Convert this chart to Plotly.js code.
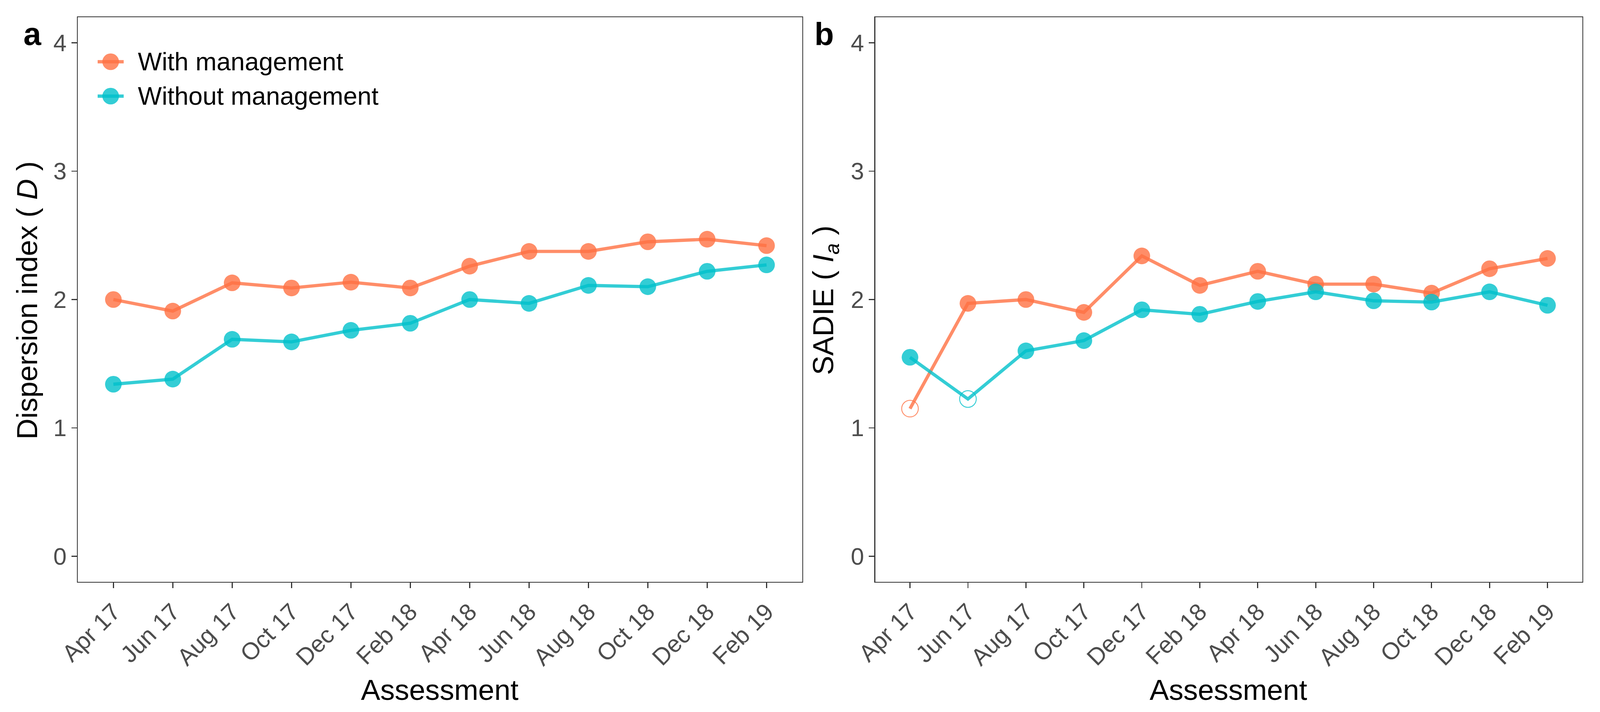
<!DOCTYPE html>
<html>
<head>
<meta charset="utf-8">
<script src="https://cdn.plot.ly/plotly-3.0.1.min.js"></script>
<style>html,body{margin:0;padding:0;background:#fff;overflow:hidden;}#chart{width:100vw;height:100vh;}</style>
</head>
<body>
<div id="chart"></div>
<script>
// ---- data ----
var assessments = ["Apr 17","Jun 17","Aug 17","Oct 17","Dec 17","Feb 18","Apr 18","Jun 18","Aug 18","Oct 18","Dec 18","Feb 19"];
var seriesNames = ["With management","Without management"];
var dispersionWith    = [2.00,1.91,2.13,2.09,2.135,2.09,2.26,2.375,2.375,2.45,2.47,2.42];
var dispersionWithout = [1.34,1.38,1.69,1.67,1.76,1.815,2.00,1.97,2.11,2.10,2.22,2.27];
var sadieWith         = [1.15,1.97,2.00,1.90,2.34,2.11,2.22,2.12,2.12,2.05,2.24,2.32];
var sadieWithout      = [1.55,1.225,1.60,1.68,1.92,1.885,1.985,2.06,1.99,1.98,2.06,1.955];
// significance flags (false -> drawn as open circle)
var sadieWithSig      = [false,true,true,true,true,true,true,true,true,true,true,true];
var sadieWithoutSig   = [true,false,true,true,true,true,true,true,true,true,true,true];
var yTicks = [0,1,2,3,4];

// ---- geometry (reference is 4424 x 1822); scale to the actual viewport ----
var RW = 4424, RH = 1822;
var VW = window.innerWidth || RW, VH = window.innerHeight || RH;
var S = Math.min(VW / RW, VH / RH);
function k(v){ return v * S; }
function px2x(p){ return p / RW; }
function px2y(p){ return 1 - p / RH; }

var orange = 'rgba(255,112,66,0.8)';
var teal = 'rgba(0,192,202,0.8)';
var FONT = 'Liberation Sans, Arial, Helvetica, sans-serif';
var MS = k(46), LW = k(9);

function trace(y, color, sig, xa, ya, name){
  var sym = y.map(function(_, i){ return (sig && !sig[i]) ? 'circle-open' : 'circle'; });
  var lw = y.map(function(_, i){ return (sig && !sig[i]) ? k(2.5) : 0; });
  return {
    type: 'scatter', mode: 'lines+markers', name: name,
    x: assessments, y: y, xaxis: xa, yaxis: ya, showlegend: false,
    line: {color: color, width: LW},
    marker: {color: color, size: MS, symbol: sym, line: {color: color, width: lw}},
    hoverinfo: 'x+y'
  };
}

var data = [
  trace(dispersionWith, orange, null, 'x', 'y', seriesNames[0]),
  trace(dispersionWithout, teal, null, 'x', 'y', seriesNames[1]),
  trace(sadieWith, orange, sadieWithSig, 'x2', 'y2', seriesNames[0]),
  trace(sadieWithout, teal, sadieWithoutSig, 'x2', 'y2', seriesNames[1])
];

var yDom = [px2y(1489), px2y(44)];
var tickFont = {family: FONT, size: k(66), color: '#4D4D4D'};
function xAxis(dom, anchor){
  return {
    domain: dom, anchor: anchor, type: 'category', range: [-0.6, 11.6], automargin: false,
    showgrid: false, zeroline: false, showline: true, mirror: true,
    linecolor: '#333333', linewidth: k(2.7),
    ticks: 'outside', ticklen: k(15), tickwidth: k(3), tickcolor: '#333333',
    tickangle: -45, tickfont: tickFont
  };
}
function yAxis(anchor){
  return {
    domain: yDom, anchor: anchor, range: [-0.2, 4.2], automargin: false,
    tickvals: yTicks, ticktext: yTicks.map(String),
    showgrid: false, zeroline: false, showline: true, mirror: true,
    linecolor: '#333333', linewidth: k(2.7),
    ticks: 'outside', ticklen: k(15), tickwidth: k(3), tickcolor: '#333333',
    tickfont: tickFont
  };
}

var titleFont = {family: FONT, size: k(80), color: '#000000'};
function ann(text, x, y, xanchor, font, angle){
  var a = {text: text, xref: 'paper', yref: 'paper', x: px2x(x), y: px2y(y),
           xanchor: xanchor, yanchor: 'middle', showarrow: false, font: font};
  if(angle) a.textangle = angle;
  return a;
}
var labelFont = {family: FONT, size: k(88), color: '#000'};
var legFont = {family: FONT, size: k(70), color: '#000'};
var annotations = [
  ann('Assessment', 1216, 1765, 'center', titleFont),
  ann('Assessment', 3397, 1765, 'center', titleFont),
  ann('Dispersion index ( <i>D</i> )', 75, 768, 'center', titleFont, -90),
  ann('SADIE ( <i>I</i><sub><i>a</i></sub> )', 2282, 768, 'center', titleFont, -90),
  ann('<b>a</b>', 90, 86, 'center', labelFont),
  ann('<b>b</b>', 2279, 86, 'center', labelFont),
  ann(seriesNames[0], 379, 158, 'left', legFont),
  ann(seriesNames[1], 379, 246, 'left', legFont)
];

// legend keys (drawn as shapes in paper space)
function legendKey(cy, color){
  return [
    {type: 'line', xref: 'paper', yref: 'paper', x0: px2x(270), x1: px2x(342), y0: px2y(cy), y1: px2y(cy), line: {color: color, width: LW}},
    {type: 'circle', xref: 'paper', yref: 'paper', xsizemode: 'pixel', ysizemode: 'pixel', xanchor: px2x(306), yanchor: px2y(cy), x0: -MS/2, x1: MS/2, y0: -MS/2, y1: MS/2, fillcolor: color, line: {width: 0}}
  ];
}
var shapes = legendKey(158, orange).concat(legendKey(246, teal));

var layout = {
  width: VW, height: VH,
  margin: {l: 0, r: 0, t: 0, b: 0, pad: 0},
  paper_bgcolor: '#ffffff', plot_bgcolor: '#ffffff',
  showlegend: false,
  xaxis: xAxis([px2x(215), px2x(2218)], 'y'), yaxis: yAxis('x'),
  xaxis2: xAxis([px2x(2420), px2x(4375)], 'y2'), yaxis2: yAxis('x2'),
  annotations: annotations, shapes: shapes,
  font: {family: FONT}
};

Plotly.newPlot('chart', data, layout, {staticPlot: true, displayModeBar: false});
</script>
</body>
</html>
